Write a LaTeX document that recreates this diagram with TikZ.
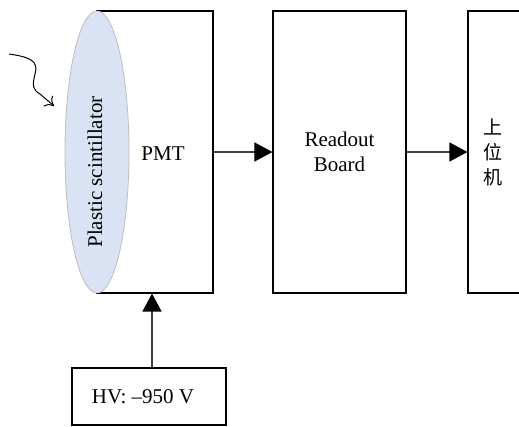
\documentclass[tikz,border=0pt]{standalone}
\usepackage{fontspec}
\setmainfont{Liberation Serif}
\newfontfamily\cjk{Noto Sans CJK SC}
\usetikzlibrary{shapes.geometric,arrows.meta}
\definecolor{scinfill}{RGB}{218,227,243}
\definecolor{scinedge}{RGB}{190,190,190}
\definecolor{arrgray}{RGB}{64,64,64}
\tikzset{
    BX1/.style ={rectangle,inner sep=0pt,draw,line width=1.1pt},
    EL1/.style ={ellipse,inner sep=0pt,minimum width=64pt,minimum height=282pt,draw=scinedge,fill=scinfill,line width=0.8pt},
    AR1/.style ={draw=arrgray,line width=1.5pt,-{Triangle[length=18pt,width=19pt,color=black]}},
    TX1/.style ={font=\fontsize{21}{24}\selectfont,inner sep=0pt},
    TX2/.style ={font=\cjk\fontsize{19}{25}\selectfont,align=center,inner sep=0pt}}
\begin{document}
\begin{tikzpicture}[x=1pt,y=-1pt]
        \useasboundingbox (0,0) rectangle (519,426);
        \node[BX1,minimum width=116pt,minimum height=282pt] (2) at(155,152){};
        \node[EL1] (1) at(97,152){};
        \node[TX1,rotate=90] (1t) at(95,172){Plastic scintillator};
        \node[TX1] (2t) at(163,154){PMT};
        \node[BX1,minimum width=133pt,minimum height=282pt,TX1,align=center] (3) at(339.5,152){Readout\\[1pt]Board};
        \node[BX1,minimum width=100pt,minimum height=282pt] (4) at(518,152){};
        \node[TX2] (4t) at(493,152){上\\位\\机};
        \node[BX1,minimum width=154pt,minimum height=57pt] (5) at(149,396.5){};
        \node[TX1] (5t) at(143,397){HV: \textendash950 V};
        \coordinate (6) at(9,54);
        \coordinate (7) at(54,106);
        \draw[AR1] (2) --(3);
        \draw[AR1] (3) --(4);
        \draw[AR1] (5.north -| 152,0) --(2.south -| 152,0);
        \draw[line width=1pt,-{To[length=8pt,width=14pt]}] (6) .. controls (30,57) and (39,61) .. (35,74) .. controls (32,86) and (33,90) .. (40,94) --(7);
    \end{tikzpicture}
\end{document}
